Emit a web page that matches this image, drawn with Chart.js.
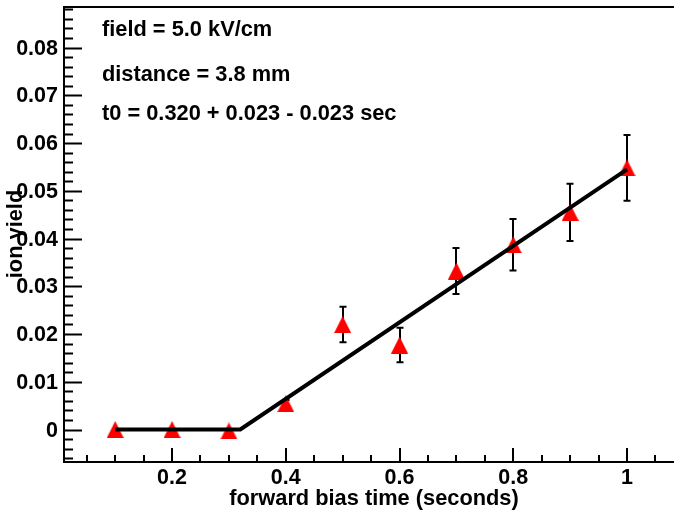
<!DOCTYPE html>
<html>
<head>
  <meta charset="utf-8">
  <title>ion yield vs forward bias time</title>
  <script src="https://cdn.jsdelivr.net/npm/chart.js@4.4.0/dist/chart.umd.min.js"></script>
  <style>
    html, body { margin: 0; padding: 0; background: #fff; overflow: hidden; }
    #plot { display: block; }
  </style>
</head>
<body>
<canvas id="plot" width="674" height="511"></canvas>

<script>
// measured points
var biasTime = [0.1, 0.2, 0.3, 0.4, 0.5, 0.6, 0.7, 0.8, 0.9, 1.0];
var ionYield = [0, 0, -0.0003, 0.0054, 0.022, 0.0177, 0.0332, 0.0387, 0.0455, 0.0548];
var yieldErr = [0, 0, 0, 0.0008, 0.0037, 0.0036, 0.0048, 0.0054, 0.006, 0.0069];

// fitted threshold line (flat until t0, then linear)
var fitX = [0.1, 0.32, 1.0];
var fitY = [0, 0, 0.0545];

// axis labels
var xTicks = [0.2, 0.4, 0.6, 0.8, 1.0];
var xMinor = [0.05, 0.1, 0.15, 0.25, 0.3, 0.35, 0.45, 0.5, 0.55, 0.65, 0.7, 0.75, 0.85, 0.9, 0.95, 1.05];
var yTicks = [0, 0.01, 0.02, 0.03, 0.04, 0.05, 0.06, 0.07, 0.08];

var notes = ['field = 5.0 kV/cm', 'distance = 3.8 mm', 't0 = 0.320 + 0.023 - 0.023 sec'];

var FONT = 'bold 21.5px "Liberation Sans", Arial, sans-serif';
var FONT_BIG = 'bold 21.8px "Liberation Sans", Arial, sans-serif';

// red up-triangle marker, same width and height
function makeTriangle(size) {
  var c = document.createElement('canvas');
  c.width = size; c.height = size;
  var g = c.getContext('2d');
  g.fillStyle = '#ff0000';
  g.beginPath();
  g.moveTo(size / 2, 0);
  g.lineTo(size, size);
  g.lineTo(0, size);
  g.closePath();
  g.fill();
  return c;
}
var tri = makeTriangle(17);

function fmtY(v) {
  var r = Math.round(v * 100) / 100;
  return r === 0 ? '0' : r.toFixed(2);
}
function fmtX(v) {
  var r = Math.round(v * 10) / 10;
  return String(r);
}

var errorBars = {
  id: 'errorBars',
  beforeDatasetsDraw: function(chart) {
    var ctx = chart.ctx, xs = chart.scales.x, ys = chart.scales.y;
    ctx.save();
    ctx.strokeStyle = '#000';
    ctx.lineWidth = 2;
    for (var i = 0; i < biasTime.length; i++) {
      if (!yieldErr[i]) continue;
      var px = Math.round(xs.getPixelForValue(biasTime[i]));
      var top = ys.getPixelForValue(ionYield[i] + yieldErr[i]);
      var bot = ys.getPixelForValue(ionYield[i] - yieldErr[i]);
      ctx.beginPath();
      ctx.moveTo(px, top); ctx.lineTo(px, bot);
      ctx.moveTo(px - 3.5, top); ctx.lineTo(px + 3.5, top);
      ctx.moveTo(px - 3.5, bot); ctx.lineTo(px + 3.5, bot);
      ctx.stroke();
    }
    ctx.restore();
  }
};

// ROOT-like frame: ticks pointing inwards, labels and titles
var frame = {
  id: 'frame',
  afterDraw: function(chart) {
    var ctx = chart.ctx, a = chart.chartArea;
    var xs = chart.scales.x, ys = chart.scales.y;
    ctx.save();
    ctx.strokeStyle = '#000';
    ctx.lineWidth = 2;
    ctx.beginPath();
    ctx.moveTo(a.right, a.top);
    ctx.lineTo(a.left, a.top);
    ctx.lineTo(a.left, a.bottom);
    ctx.lineTo(a.right, a.bottom);
    ctx.stroke();

    ctx.beginPath();
    // y ticks
    for (var v = -0.006; v < 0.0885; v += 0.002) {
      var py = Math.round(ys.getPixelForValue(v)) + 0.5;
      var major = Math.abs(Math.round(v * 100) - v * 100) < 1e-6;
      ctx.moveTo(a.left, py);
      ctx.lineTo(a.left + (major ? 18 : 9), py);
    }
    // x ticks
    xTicks.forEach(function(t) {
      var px = Math.round(xs.getPixelForValue(t));
      ctx.moveTo(px, a.bottom); ctx.lineTo(px, a.bottom - 14);
    });
    xMinor.forEach(function(t) {
      var px = Math.round(xs.getPixelForValue(t));
      ctx.moveTo(px, a.bottom); ctx.lineTo(px, a.bottom - 7);
    });
    ctx.stroke();

    ctx.fillStyle = '#000';
    ctx.font = FONT;
    ctx.textBaseline = 'alphabetic';
    ctx.textAlign = 'right';
    yTicks.forEach(function(t) {
      ctx.fillText(fmtY(t), a.left - 6, ys.getPixelForValue(t) + 7);
    });
    ctx.textAlign = 'center';
    xTicks.forEach(function(t) {
      ctx.fillText(fmtX(t), xs.getPixelForValue(t), a.bottom + 22);
    });

    ctx.font = FONT_BIG;
    ctx.fillText('forward bias time (seconds)', 374, 505);

    ctx.save();
    ctx.translate(22, 234);
    ctx.rotate(-Math.PI / 2);
    ctx.fillText('ion yield', 0, 0);
    ctx.restore();

    ctx.textAlign = 'left';
    var lineY = [36, 81, 120];
    notes.forEach(function(s, i) {
      ctx.fillText(s, 102, lineY[i]);
    });
    ctx.restore();
  }
};

var ctx = document.getElementById('plot').getContext('2d');
var chart = new Chart(ctx, {
  type: 'scatter',
  data: {
    datasets: [{
      type: 'line',
      label: 'fit',
      data: fitX.map(function(x, i) { return { x: x, y: fitY[i] }; }),
      borderColor: '#000',
      borderWidth: 4,
      pointRadius: 0,
      tension: 0,
      fill: false,
      order: 0
    }, {
      label: 'ion yield',
      data: biasTime.map(function(x, i) { return { x: x, y: ionYield[i] }; }),
      pointStyle: tri,
      pointRadius: 9,
      order: 1
    }]
  },
  options: {
    responsive: false,
    animation: false,
    devicePixelRatio: 1,
    layout: { autoPadding: false, padding: { left: 64, top: 7, right: 0, bottom: 49 } },
    plugins: { legend: { display: false }, tooltip: { enabled: false } },
    scales: {
      x: { type: 'linear', min: 0.01, max: 1.0826, display: false },
      y: { type: 'linear', min: -0.0068, max: 0.0885, display: false }
    }
  },
  plugins: [errorBars, frame]
});
</script>
</body>
</html>
